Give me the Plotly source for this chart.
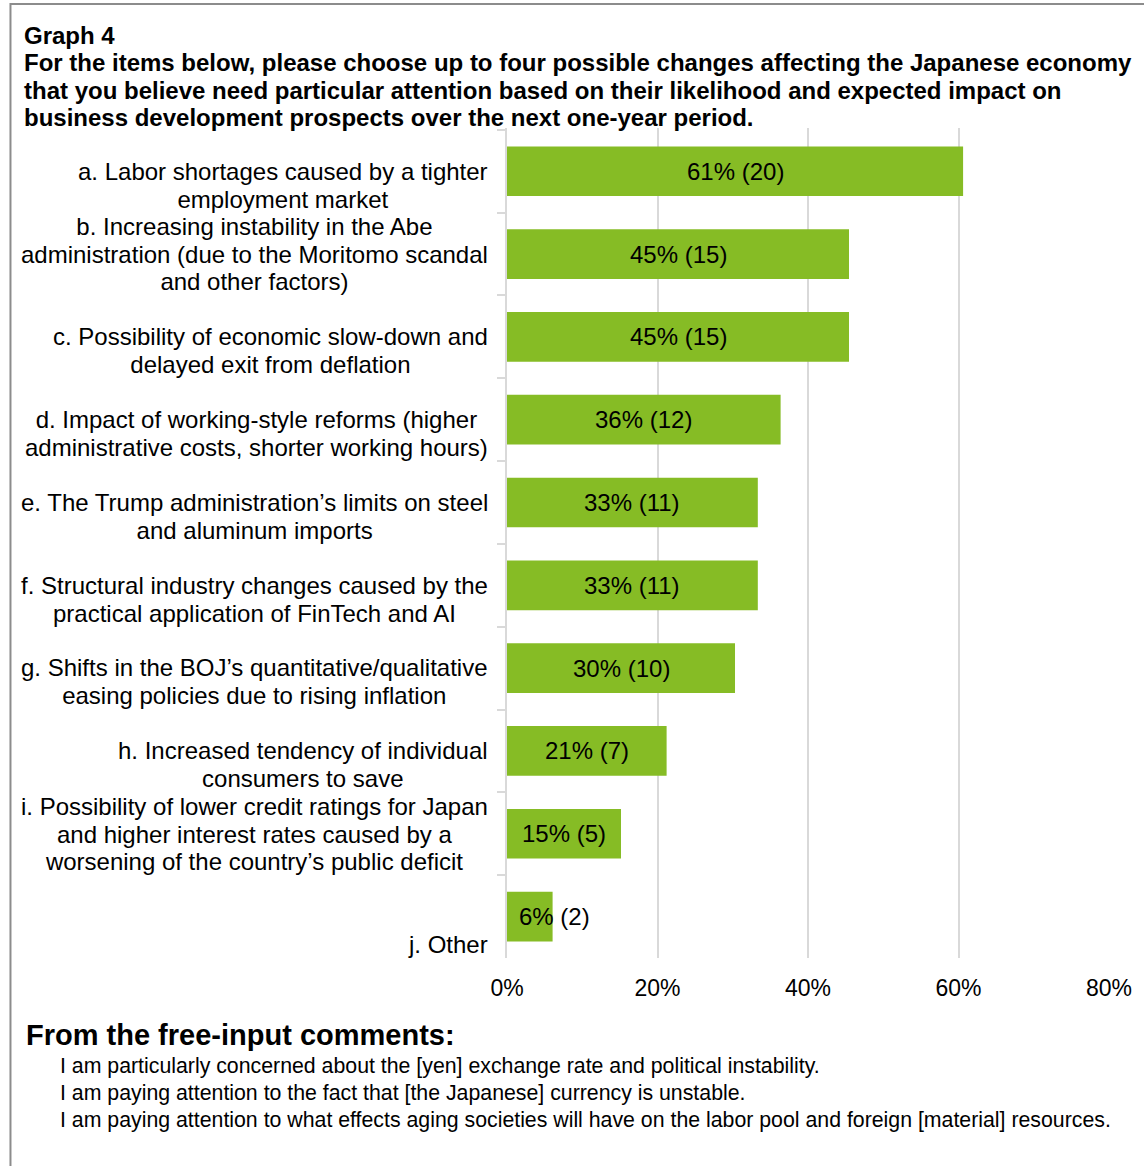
import plotly.graph_objects as go

# Survey item labels (line breaks as laid out beside the bars)
categories = [
    "a. Labor shortages caused by a tighter<br>employment market",
    "b. Increasing instability in the Abe<br>administration (due to the Moritomo scandal<br>and other factors)",
    "c. Possibility of economic slow-down and<br>delayed exit from deflation",
    "d. Impact of working-style reforms (higher<br>administrative costs, shorter working hours)",
    "e. The Trump administration’s limits on steel<br>and aluminum imports",
    "f. Structural industry changes caused by the<br>practical application of FinTech and AI",
    "g. Shifts in the BOJ’s quantitative/qualitative<br>easing policies due to rising inflation",
    "h. Increased tendency of individual<br>consumers to save",
    "i. Possibility of lower credit ratings for Japan<br>and higher interest rates caused by a<br>worsening of the country’s public deficit",
    "j. Other",
]
# Share of respondents (%) and number of respondents per item
percents = [60.61, 45.45, 45.45, 36.36, 33.33, 33.33, 30.30, 21.21, 15.15, 6.06]
counts = [20, 15, 15, 12, 11, 11, 10, 7, 5, 2]

x_ticks = [0, 20, 40, 60, 80]
x_tick_labels = ["0%", "20%", "40%", "60%", "80%"]

title_lines = [
    "Graph 4",
    "For the items below, please choose up to four possible changes affecting the Japanese economy",
    "that you believe need particular attention based on their likelihood and expected impact on",
    "business development prospects over the next one-year period.",
]
comments_heading = "From the free-input comments:"
comments = [
    "I am particularly concerned about the [yen] exchange rate and political instability.",
    "I am paying attention to the fact that [the Japanese] currency is unstable.",
    "I am paying attention to what effects aging societies will have on the labor pool and foreign [material] resources.",
]

FONT = "Liberation Sans, Arial, sans-serif"
GREEN = "#86BC25"
GRID = "#D9D9D9"

W, H = 1144, 1166
L, R, T, B = 507, 32, 128, 208
PW, PH = W - L - R, H - T - B


def fx(px):
    return (px - L) / PW


def fy(py):
    return (H - B - py) / PH


def sized(text, px, bold=False):
    """Wrap each line in a span of the given glyph size; the annotation's own
    font size then only sets the spacing between lines."""
    parts = []
    for line in text.split("<br>"):
        if bold:
            line = "<b>" + line + "</b>"
        parts.append(f'<span style="font-size:{px}px">{line}</span>')
    return "<br>".join(parts)


fig = go.Figure()
fig.add_trace(go.Bar(
    x=percents,
    y=categories,
    orientation="h",
    marker=dict(color=GREEN, line=dict(width=0)),
    hoverinfo="skip",
))

annotations = []

# value labels on the bars
for cat, p, n in zip(categories, percents, counts):
    text = f"{p:.0f}% ({n})"
    if p < 10:
        annotations.append(dict(x=0, y=cat, xref="x", yref="y", text=text,
                                showarrow=False, xanchor="left", xshift=10,
                                font=dict(size=24, color="black", family=FONT)))
    else:
        annotations.append(dict(x=p / 2, y=cat, xref="x", yref="y", text=text,
                                showarrow=False, xanchor="center",
                                font=dict(size=24, color="black", family=FONT)))

# category labels, bottom-aligned inside a three-line slot
LINE = 27.5
for cat in categories:
    nlines = cat.count("<br>") + 1
    annotations.append(dict(x=fx(490), y=cat, xref="paper", yref="y",
                            text=sized(cat, 24),
                            showarrow=False, xanchor="right", yanchor="middle",
                            align="center", yshift=-(3 - nlines) * LINE / 2,
                            font=dict(size=LINE / 1.3, color="black", family=FONT)))

# heading text
annotations.append(dict(x=fx(20), y=fy(20), xref="paper", yref="paper",
                        text=sized("<br>".join(title_lines), 24, bold=True),
                        showarrow=False, xanchor="left", yanchor="top", align="left",
                        font=dict(size=27.3 / 1.3, color="black", family=FONT)))

# free-input comments below the chart
annotations.append(dict(x=fx(22), y=fy(1035), xref="paper", yref="paper",
                        text="<b>" + comments_heading + "</b>",
                        showarrow=False, xanchor="left", yanchor="middle",
                        font=dict(size=29, color="black", family=FONT)))
annotations.append(dict(x=fx(56), y=fy(1052), xref="paper", yref="paper",
                        text=sized("<br>".join(comments), 21.3),
                        showarrow=False, xanchor="left", yanchor="top", align="left",
                        font=dict(size=27 / 1.3, color="black", family=FONT)))

fig.update_layout(
    width=W, height=H,
    margin=dict(l=L, r=R, t=T, b=B, pad=0),
    paper_bgcolor="white", plot_bgcolor="white",
    showlegend=False,
    bargap=0.4,
    font=dict(family=FONT, color="black", size=22),
    annotations=annotations,
    shapes=[dict(type="rect", xref="paper", yref="paper",
                 x0=fx(8), x1=fx(1300), y0=fy(1300), y1=fy(4),
                 line=dict(color="#8C8C8C", width=2), layer="below")],
)
fig.update_xaxes(
    range=[0, 80], tickvals=x_ticks, ticktext=x_tick_labels,
    showgrid=True, gridcolor=GRID, gridwidth=2,
    zeroline=False, showline=False, ticks="",
    tickfont=dict(size=23, family=FONT, color="black"),
    ticklabelstandoff=14, fixedrange=True,
)
fig.update_yaxes(
    type="category", categoryorder="array", categoryarray=categories,
    autorange="reversed", showticklabels=False,
    showline=True, linecolor=GRID, linewidth=2,
    ticks="outside", tickson="boundaries", ticklen=8,
    tickcolor=GRID, tickwidth=2, showgrid=False, fixedrange=True,
)

fig.write_html("out.html")
